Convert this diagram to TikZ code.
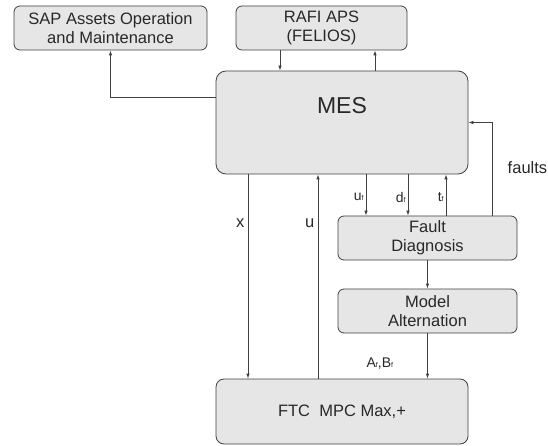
\documentclass[tikz,border=0pt]{standalone}
\usepackage{fontspec}
\setmainfont{Liberation Sans}
\usetikzlibrary{arrows.meta, positioning}
\definecolor{boxfill}{RGB}{230,230,230}
\definecolor{boxline}{RGB}{64,64,64}
\definecolor{txtgray}{RGB}{40,40,40}
\newcommand{\subf}{{\fontsize{7}{7}\selectfont f}}

\begin{document}
\begin{tikzpicture}[x=1pt, y=-1pt, >={Latex[length=5pt,width=3.5pt]},
  blk/.style={draw=boxline, fill=boxfill, rounded corners=6pt, line width=0.8pt,
    align=center, inner sep=0pt, text=txtgray, font=\fontsize{16.5}{19}\selectfont},
  lbl/.style={text=txtgray, font=\fontsize{16.5}{19}\selectfont},
  sig/.style={text=txtgray, font=\fontsize{14}{16}\selectfont, inner sep=2pt},
  conn/.style={->, line width=0.8pt, draw=boxline}]
  \useasboundingbox (0,0) rectangle (548,446);

  % blocks
  \node [blk, minimum width=193, minimum height=44] (sap) at (110.5,28)
    {SAP Assets Operation\\and Maintenance};
  \node [blk, minimum width=171, minimum height=44] (rafi) at (321.5,28)
    {RAFI APS\\(FELIOS)};
  \node [blk, rounded corners=10pt, minimum width=252, minimum height=103,
    label={[anchor=center, yshift=-35pt, text=txtgray, font=\fontsize{23}{26}\selectfont]north:MES}]
    (mes) at (342,122.5) {};
  \node [blk, minimum width=179, minimum height=44] (fd) at (427.5,238)
    {Fault\\Diagnosis};
  \node [blk, minimum width=179, minimum height=44] (ma) at (427.5,311)
    {Model\\Alternation};
  \node [blk, rounded corners=8pt, minimum width=252, minimum height=65] (ftc) at (342,411.5)
    {FTC\ \ MPC Max,+};

  % connectors
  \draw [conn] ([xshift=-41.5pt]rafi.south) -- ([xshift=-62pt]mes.north);
  \draw [conn] ([xshift=33pt]mes.north) -- ([xshift=53.5pt]rafi.south);
  \draw [conn] ([yshift=25.5pt]mes.west) -| (sap.south);

  \draw [conn] ([xshift=-94pt]mes.south) -- ([xshift=-94pt]ftc.north)
    node [lbl, pos=0.24, left] {x};
  \draw [conn] ([xshift=-24pt]ftc.north) -- ([xshift=-24pt]mes.south)
    node [lbl, pos=0.76, left] {u};

  \draw [conn] ([xshift=24pt]mes.south) -- ([xshift=-61.5pt]fd.north)
    node [sig, pos=0.55, left] {u\subf};
  \draw [conn] ([xshift=66pt]mes.south) -- ([xshift=-19.5pt]fd.north)
    node [sig, pos=0.55, left] {d\subf};
  \draw [conn] ([xshift=18.5pt]fd.north) -- ([xshift=104pt]mes.south)
    node [sig, pos=0.45, left] {t\subf};
  \draw [conn] ([xshift=64.5pt]fd.north) |- (mes.east)
    node [lbl, pos=0.26, right, xshift=12pt] {faults};

  \draw [conn] (fd.south) -- (ma.south |- fd.south) -- (ma.north);
  \draw [conn] (ma.south) -- (ma.south |- ftc.north)
    node [sig, pos=0.67, left, xshift=-32pt] {A\subf,B\subf};
\end{tikzpicture}
\end{document}
